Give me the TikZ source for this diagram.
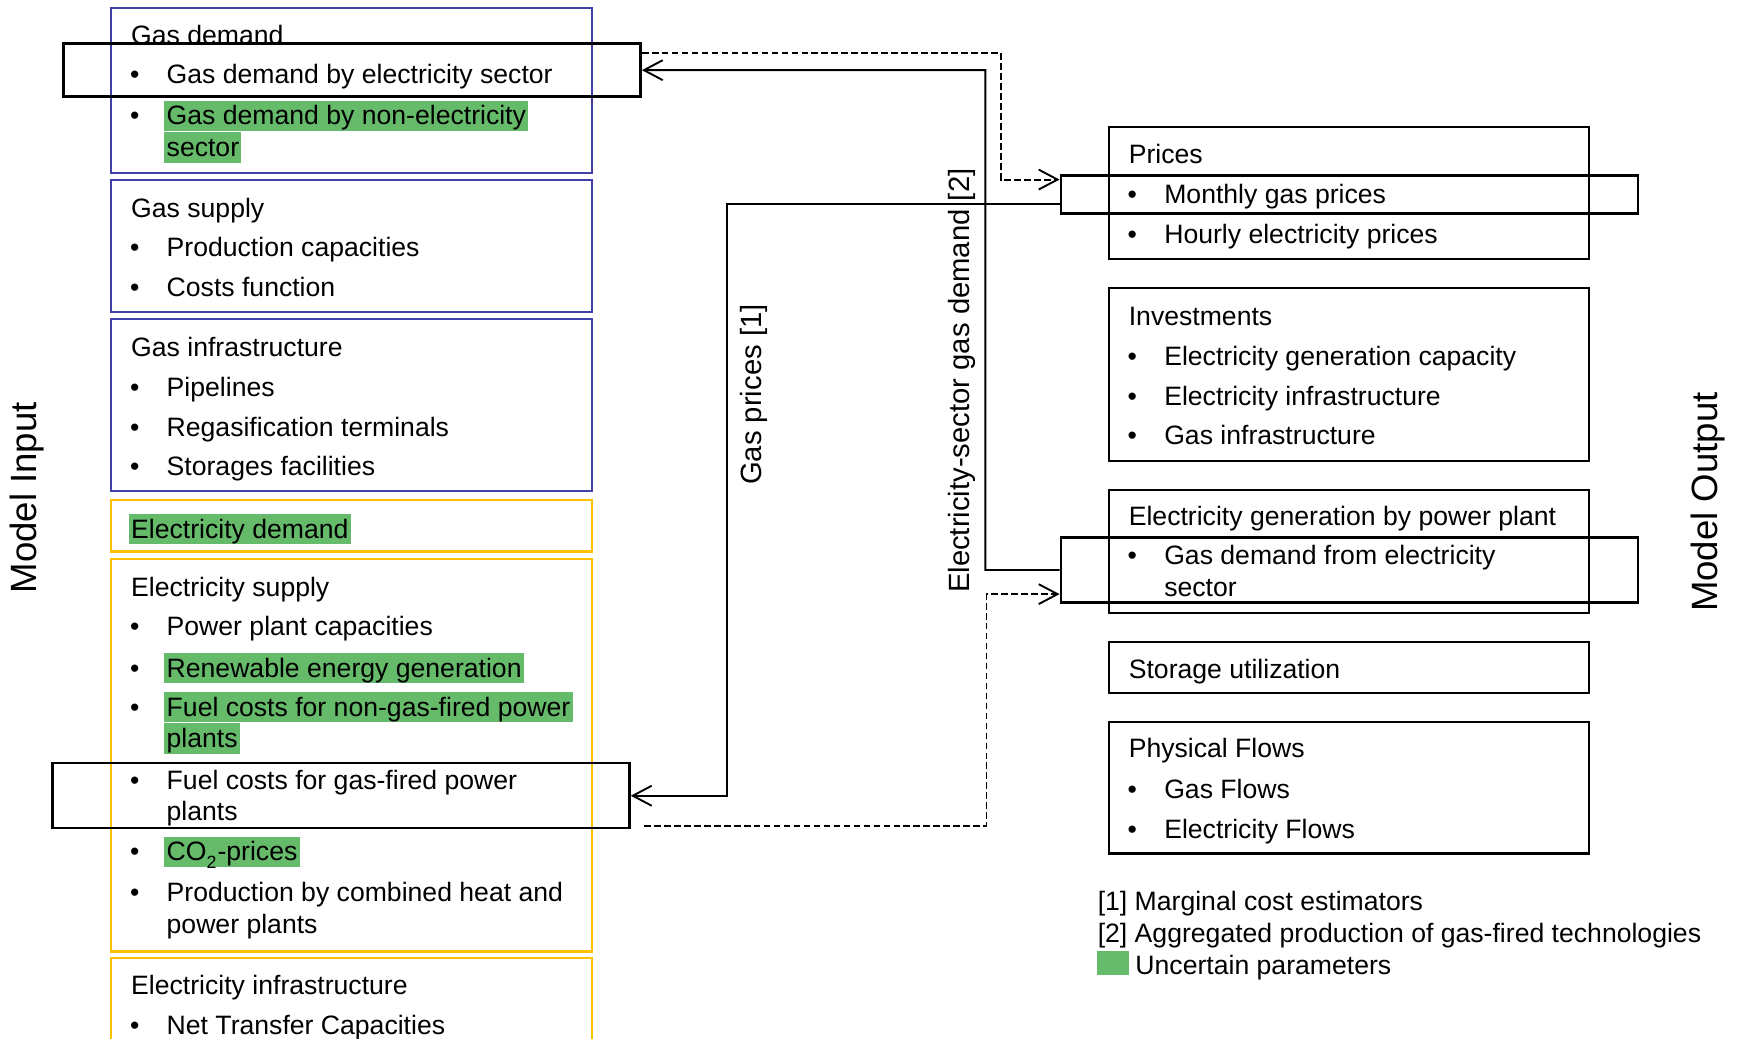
\documentclass[tikz,border=0pt]{standalone}
\usepackage{fontspec}
\setmainfont{Liberation Sans}
\usetikzlibrary{arrows.meta,fit,calc}
\definecolor{hlgreen}{RGB}{102,187,106}
\definecolor{boxblue}{RGB}{64,64,168}
\definecolor{boxyellow}{RGB}{255,192,0}
\begin{document}
\begin{tikzpicture}[x=0.5pt,y=-0.5pt,
  txt/.style={anchor=base west,inner sep=0pt,yshift=-0.7pt,font=\fontsize{12}{14}\selectfont},
  hl/.style={txt,fill=hlgreen,inner xsep=1pt,text height=11pt,text depth=2.8pt},
  bbox/.style={draw=boxblue,line width=1pt,inner sep=0pt},
  ybox/.style={draw=boxyellow,line width=1pt,inner sep=0pt},
  kbox/.style={draw=black,line width=1pt,inner sep=0pt},
  ovbox/.style={draw=black,line width=1.1pt,inner sep=0pt},
  conn/.style={line width=0.85pt},
  dconn/.style={conn,dash pattern=on 3pt off 1.5pt},
  tip/.style={-{Straight Barb[length=8.5pt,width=9pt]}},
  vlab/.style={rotate=90,inner sep=0pt,font=\fontsize{13.2}{15}\selectfont},
  side/.style={rotate=90,inner sep=0pt,font=\fontsize{16.5}{18}\selectfont},
  legsq/.style={fill=hlgreen,inner sep=0pt}
]
\clip (0,0) rectangle (1568,937);
\fill[white] (0,0) rectangle (1568,937);

% ---------- left boxes ----------
\node[bbox,fit={(100,7.5) (534,155.8)}] (gd) {};
\node[bbox,fit={(100,162.4) (534,281.8)}] (gs) {};
\node[bbox,fit={(100,288.1) (534,443)}] (gi) {};
\node[ybox,fit={(100,450.8) (534,497.5)}] (ed) {};
\node[ybox,fit={(100,504.6) (534,858.4)}] (es) {};
\node[ybox,fit={(100,864.2) (534,1010)}] (ei) {};

% gas demand
\node[txt] (gd0) at (118,38.5) {Gas demand};
\node[txt] (gd1b) at (117,73.7) {\textbullet};
\node[txt] (gd1) at (150,73.7) {Gas demand by electricity sector};
\node[txt] (gd2b) at (117,111.3) {\textbullet};
\node[hl] (gd2) at (148,111.3) {Gas demand by non-electricity};
\node[hl] (gd3) at (148,139.8) {sector};
% gas supply
\node[txt] (gs0) at (118,195) {Gas supply};
\node[txt] (gs1b) at (117,230) {\textbullet};
\node[txt] (gs1) at (150,230) {Production capacities};
\node[txt] (gs2b) at (117,266) {\textbullet};
\node[txt] (gs2) at (150,266) {Costs function};
% gas infrastructure
\node[txt] (gi0) at (118,320) {Gas infrastructure};
\node[txt] (gi1b) at (117,356) {\textbullet};
\node[txt] (gi1) at (150,356) {Pipelines};
\node[txt] (gi2b) at (117,392) {\textbullet};
\node[txt] (gi2) at (150,392) {Regasification terminals};
\node[txt] (gi3b) at (117,428) {\textbullet};
\node[txt] (gi3) at (150,428) {Storages facilities};
% electricity demand
\node[hl] (ed0) at (116,484) {Electricity demand};
% electricity supply
\node[txt] (es0) at (118,536.8) {Electricity supply};
\node[txt] (es1b) at (117,572.3) {\textbullet};
\node[txt] (es1) at (150,572.3) {Power plant capacities};
\node[txt] (es2b) at (117,609.6) {\textbullet};
\node[hl] (es2) at (148,609.6) {Renewable energy generation};
\node[txt] (es3b) at (117,644.8) {\textbullet};
\node[hl] (es3) at (148,644.8) {Fuel costs for non-gas-fired power};
\node[hl] (es3c) at (148,673) {plants};
\node[txt] (es4b) at (117,710.8) {\textbullet};
\node[txt] (es4) at (150,710.8) {Fuel costs for gas-fired power};
\node[txt] (es4c) at (150,739) {plants};
\node[txt] (es5b) at (117,775.3) {\textbullet};
\node[hl] (es5) at (148,775.3) {CO\raisebox{-1.5pt}{\textsubscript{2}}-prices};
\node[txt] (es6b) at (117,811.7) {\textbullet};
\node[txt] (es6) at (150,811.7) {Production by combined heat and};
\node[txt] (es6c) at (150,840.7) {power plants};
% electricity infrastructure
\node[txt] (ei0) at (118,896) {Electricity infrastructure};
\node[txt] (ei1b) at (117,931.9) {\textbullet};
\node[txt] (ei1) at (150,931.9) {Net Transfer Capacities};

% ---------- right boxes ----------
\node[kbox,fit={(1000.4,114.3) (1433.9,234)}] (pr) {};
\node[kbox,fit={(1000.4,260) (1433.9,415.9)}] (inv) {};
\node[kbox,fit={(1000.4,442) (1433.9,553.3)}] (eg) {};
\node[kbox,fit={(1000.4,579.5) (1433.9,625.5)}] (su) {};
\node[kbox,fit={(1000.4,651.7) (1433.9,770)}] (pf) {};

\node[txt] (pr0) at (1018,146.5) {Prices};
\node[txt] (pr1b) at (1017,182) {\textbullet};
\node[txt] (pr1) at (1050,182) {Monthly gas prices};
\node[txt] (pr2b) at (1017,218) {\textbullet};
\node[txt] (pr2) at (1050,218) {Hourly electricity prices};

\node[txt] (in0) at (1018,292) {Investments};
\node[txt] (in1b) at (1017,328) {\textbullet};
\node[txt] (in1) at (1050,328) {Electricity generation capacity};
\node[txt] (in2b) at (1017,364) {\textbullet};
\node[txt] (in2) at (1050,364) {Electricity infrastructure};
\node[txt] (in3b) at (1017,400) {\textbullet};
\node[txt] (in3) at (1050,400) {Gas infrastructure};

\node[txt] (eg0) at (1018,472.8) {Electricity generation by power plant};
\node[txt] (eg1b) at (1017,508.2) {\textbullet};
\node[txt] (eg1) at (1050,508.2) {Gas demand from electricity};
\node[txt] (eg1c) at (1050,536.8) {sector};

\node[txt] (su0) at (1018,610.5) {Storage utilization};

\node[txt] (pf0) at (1018,681.8) {Physical Flows};
\node[txt] (pf1b) at (1017,718.8) {\textbullet};
\node[txt] (pf1) at (1050,718.8) {Gas Flows};
\node[txt] (pf2b) at (1017,754.9) {\textbullet};
\node[txt] (pf2) at (1050,754.9) {Electricity Flows};

% ---------- overlay boxes ----------
\node[ovbox,fit={(57.2,39.4) (578,87.2)}] (ovGD) {};
\node[ovbox,fit={(47.5,688.6) (568,747.2)}] (ovFC) {};
\node[ovbox,fit={(957,158.5) (1478,192.5)}] (ovMP) {};
\node[ovbox,fit={(957,485) (1478,543.4)}] (ovGE) {};

% ---------- connectors ----------
\coordinate (gp) at (656,184);
\coordinate (ge) at (889,514.2);
\coordinate (d1) at (903,48);
\coordinate (d1b) at (903,162);
\coordinate (d2) at (890,745);
\coordinate (d2b) at (890,536);

\draw[conn,tip] (ovMP.west |- gp) -- (gp) |- (ovFC.east);
\draw[conn,tip] (ovGE.west) -- (ge) |- (ovGD.east);
\draw[dconn,tip] (ovGD.east |- d1) -- (d1) -- (d1b) -- (ovMP.west |- d1b);
\draw[dconn,tip] ($(ovFC.east |- d2)+(12,0)$) -- (d2) -- (d2b) -- (ovGE.west |- d2b);

% ---------- vertical labels ----------
\node[vlab] (lgp) at (680.5,356) {Gas prices [1]};
\node[vlab] (lge) at (868,343.5) {Electricity-sector gas demand [2]};
\node[side] (lmi) at (24.8,449) {Model Input};
\node[side] (lmo) at (1541,453) {Model Output};

% ---------- legend ----------
\node[txt] (lg1) at (990,820) {[1] Marginal cost estimators};
\node[txt] (lg2) at (990,848.7) {[2] Aggregated production of gas-fired technologies};
\node[legsq,fit={(990,858) (1018.6,880)}] (lgsq) {};
\node[txt] (lg3) at (1024,877.6) {Uncertain parameters};
\end{tikzpicture}
\end{document}
